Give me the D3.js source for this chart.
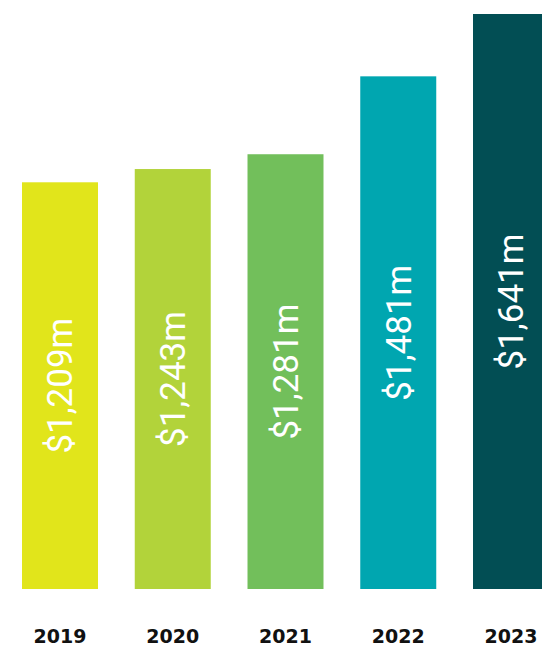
<!DOCTYPE html>
<html>
<head>
<meta charset="utf-8">
<script src="https://cdn.jsdelivr.net/npm/d3@7"></script>
<style>
  html, body { margin: 0; padding: 0; background: #fff; }
  svg { display: block; }
</style>
</head>
<body>
<script>
const years = ['2019', '2020', '2021', '2022', '2023'];
const revenue = [1209, 1243, 1281, 1481, 1641];
const barColors = ['#e1e51b', '#b2d33a', '#72bf5b', '#00a6b0', '#024e54'];

const width = 542;
const height = 652;

const svg = d3.select("body").append("svg")
    .attr("width", width)
    .attr("height", height);

// x: one band per year
const x = d3.scaleBand()
    .domain(years)
    .range([22, 549])
    .paddingInner(0.326)
    .paddingOuter(0);

// y: bars sit on a shared baseline
const y = d3.scaleLinear()
    .domain([165, d3.max(revenue)])
    .range([589, 14]);

const bars = svg.append("g").attr("class", "bars");

bars.selectAll("rect")
    .data(revenue)
    .join("rect")
    .attr("x", (d, i) => x(years[i]))
    .attr("y", d => y(d))
    .attr("width", x.bandwidth())
    .attr("height", d => y.range()[0] - y(d))
    .attr("fill", (d, i) => barColors[i]);

// value labels, rotated inside each bar
const fmt = d3.format(",");
bars.selectAll("text")
    .data(revenue)
    .join("text")
    .attr("transform", (d, i) => {
        const cx = x(years[i]) + x.bandwidth() / 2;
        const cy = (y(d) + y.range()[0]) / 2;
        return `translate(${cx}, ${cy}) rotate(-90)`;
    })
    .attr("text-anchor", "middle")
    .attr("dy", "0.35em")
    .attr("fill", "#fff")
    .style("font-family", "Roboto, sans-serif")
    .style("font-weight", 400)
    .style("font-size", "35px")
    .text(d => `$${fmt(d)}m`);

// year labels under the bars
const xAxis = d3.axisBottom(x).tickSize(0).tickPadding(0);

svg.append("g")
    .attr("class", "xAxis")
    .attr("transform", "translate(0, 629)")
    .call(xAxis)
    .call(g => g.select(".domain").remove())
    .call(g => g.selectAll("text")
        .attr("dy", "0.72em")
        .attr("fill", "#111")
        .style("font-family", "'DejaVu Sans', sans-serif")
        .style("font-weight", "bold")
        .style("font-size", "19px"));
</script>
</body>
</html>
